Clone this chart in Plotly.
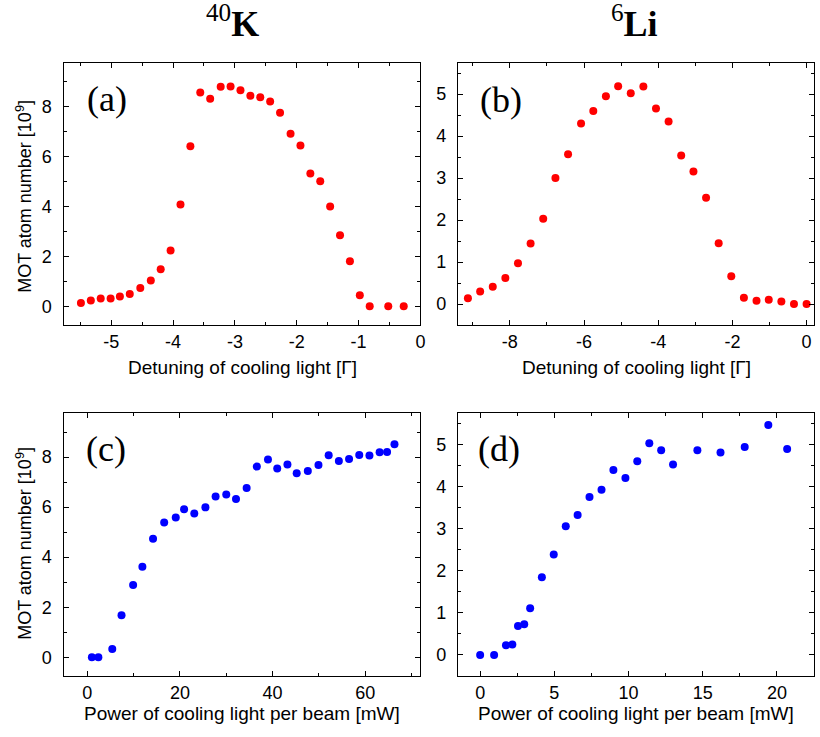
import plotly.graph_objects as go

# ---------------- data ----------------
# (a) 40K : detuning [Gamma] vs MOT atom number [1e9]
k_detuning = [-5.49, -5.33, -5.17, -5.01, -4.86, -4.70, -4.53, -4.36, -4.20, -4.04,
              -3.88, -3.72, -3.56, -3.40, -3.23, -3.07, -2.91, -2.75, -2.59, -2.43,
              -2.27, -2.10, -1.94, -1.78, -1.62, -1.46, -1.30, -1.14, -0.98, -0.82,
              -0.52, -0.27]
k_number_det = [0.13, 0.23, 0.31, 0.31, 0.39, 0.49, 0.73, 1.03, 1.48, 2.23,
                4.07, 6.41, 8.56, 8.31, 8.79, 8.80, 8.65, 8.43, 8.37, 8.20,
                7.75, 6.91, 6.44, 5.31, 5.00, 3.99, 2.84, 1.80, 0.44, 0.0,
                0.0, 0.0]

# (b) 6Li : detuning [Gamma] vs MOT atom number [1e9]
li_detuning = [-9.13, -8.80, -8.46, -8.12, -7.78, -7.44, -7.10, -6.77, -6.43, -6.08,
               -5.75, -5.41, -5.08, -4.74, -4.40, -4.06, -3.72, -3.38, -3.05, -2.71,
               -2.37, -2.03, -1.69, -1.35, -1.02, -0.68, -0.34, 0.0]
li_number_det = [0.14, 0.30, 0.41, 0.62, 0.97, 1.44, 2.03, 3.00, 3.57, 4.30,
                 4.60, 4.95, 5.19, 5.02, 5.18, 4.66, 4.35, 3.54, 3.16, 2.53,
                 1.45, 0.66, 0.15, 0.08, 0.10, 0.06, 0.0, 0.0]

# (c) 40K : power per beam [mW] vs MOT atom number [1e9]
k_power = [1.0, 2.4, 5.4, 7.4, 9.9, 11.9, 14.2, 16.6, 19.1, 20.9,
           23.1, 25.5, 27.7, 30.0, 32.1, 34.4, 36.6, 39.0, 41.0, 43.2,
           45.2, 47.6, 49.9, 52.1, 54.3, 56.5, 58.7, 60.9, 63.1, 64.7,
           66.3]
k_number_pow = [0.0, 0.0, 0.33, 1.68, 2.89, 3.62, 4.74, 5.39, 5.59, 5.91,
                5.75, 5.99, 6.42, 6.50, 6.32, 6.76, 7.62, 7.90, 7.54, 7.70,
                7.35, 7.44, 7.68, 8.07, 7.84, 7.92, 8.08, 8.06, 8.19, 8.20,
                8.51]

# (d) 6Li : power per beam [mW] vs MOT atom number [1e9]
li_power = [0.0, 0.94, 1.74, 2.17, 2.55, 2.97, 3.37, 4.16, 4.96, 5.77,
            6.57, 7.37, 8.18, 8.98, 9.79, 10.59, 11.40, 12.20, 13.0, 14.64,
            16.2, 17.83, 19.42, 20.69]
li_number_pow = [0.0, 0.0, 0.23, 0.25, 0.69, 0.73, 1.11, 1.85, 2.39, 3.06,
                 3.33, 3.76, 3.93, 4.40, 4.21, 4.61, 5.04, 4.87, 4.53, 4.87,
                 4.82, 4.95, 5.47, 4.90]

# tick values / labels
xa_ticks = [-5, -4, -3, -2, -1, 0]
xa_text = ["-5", "-4", "-3", "-2", "-1", "0"]
xb_ticks = [-8, -6, -4, -2, 0]
xb_text = ["-8", "-6", "-4", "-2", "0"]
xc_ticks = [0, 20, 40, 60]
xc_text = ["0", "20", "40", "60"]
xd_ticks = [0, 5, 10, 15, 20]
xd_text = ["0", "5", "10", "15", "20"]
y_k_ticks = [0, 2, 4, 6, 8]
y_li_ticks = [0, 1, 2, 3, 4, 5]

panel_labels = ["(a)", "(b)", "(c)", "(d)"]
column_titles = ["<sup>40</sup><b>K</b>", "<sup>6</sup><b>Li</b>"]
x_title_det = "Detuning of cooling light [Γ]"
x_title_pow = "Power of cooling light per beam [mW]"
y_title = "MOT atom number [10<sup>9</sup>]"

# ---------------- layout geometry ----------------
W, H = 820, 737
def fx(p):
    return p / W
def fy(p):
    return 1 - p / H

L_COL = [fx(64), fx(423)]
R_COL = [fx(460.7), fx(819)]
T_ROW = [fy(325), fy(62.7)]
B_ROW = [fy(676), fy(413.3)]

RED = "#ff0000"
BLUE = "#0000ff"
SANS = "Liberation Sans, Arial, sans-serif"
SERIF = "Liberation Serif, Times New Roman, serif"

fig = go.Figure()
mk = dict(size=8, line=dict(width=0))
fig.add_trace(go.Scatter(x=k_detuning, y=k_number_det, mode="markers",
                         marker=dict(color=RED, **mk), xaxis="x", yaxis="y"))
fig.add_trace(go.Scatter(x=li_detuning, y=li_number_det, mode="markers",
                         marker=dict(color=RED, **mk), xaxis="x2", yaxis="y2"))
fig.add_trace(go.Scatter(x=k_power, y=k_number_pow, mode="markers",
                         marker=dict(color=BLUE, **mk), xaxis="x3", yaxis="y3"))
fig.add_trace(go.Scatter(x=li_power, y=li_number_pow, mode="markers",
                         marker=dict(color=BLUE, **mk), xaxis="x4", yaxis="y4"))


def axis(domain, rng, tickvals, ticktext, minor_dtick, anchor, is_x):
    d = dict(domain=domain, range=rng, anchor=anchor,
             tickmode="array", tickvals=tickvals, ticktext=ticktext,
             showline=True, linecolor="black", linewidth=1.3, mirror="allticks",
             ticks="inside", ticklen=5, tickwidth=1.3, tickcolor="black",
             showgrid=False, zeroline=False,
             tickfont=dict(family=SANS, size=18, color="black"),
             ticklabelstandoff=0 if is_x else 7,
             ticklabeloverflow="allow",
             minor=dict(ticks="inside", ticklen=3, tickwidth=1.1, tickcolor="black",
                        tickmode="linear", tick0=0, dtick=minor_dtick, showgrid=False))
    return d

fig.update_layout(
    width=W, height=H,
    margin=dict(l=0, r=0, t=0, b=0),
    paper_bgcolor="white", plot_bgcolor="white",
    showlegend=False,
    xaxis=axis(L_COL, [-5.77, 0], xa_ticks, xa_text, 0.5, "y", True),
    yaxis=axis(T_ROW, [-0.75, 9.75], y_k_ticks, [str(v) for v in y_k_ticks], 1, "x", False),
    xaxis2=axis(R_COL, [-9.4, 0.2], xb_ticks, xb_text, 1, "y2", True),
    yaxis2=axis(T_ROW, [-0.5, 5.75], y_li_ticks, [str(v) for v in y_li_ticks], 0.5, "x2", False),
    xaxis3=axis(L_COL, [-5.1, 71.9], xc_ticks, xc_text, 10, "y3", True),
    yaxis3=axis(B_ROW, [-0.75, 9.75], y_k_ticks, [str(v) for v in y_k_ticks], 1, "x3", False),
    xaxis4=axis(R_COL, [-1.5, 22.5], xd_ticks, xd_text, 2.5, "y4", True),
    yaxis4=axis(B_ROW, [-0.5, 5.75], y_li_ticks, [str(v) for v in y_li_ticks], 0.5, "x4", False),
)

ann = []
# column titles
for txt, cx in zip(column_titles, [234, 638]):
    ann.append(dict(text=txt, x=fx(cx), y=fy(22), xref="paper", yref="paper",
                    showarrow=False, xanchor="center", yanchor="middle",
                    font=dict(family=SERIF, size=36, color="black")))
# panel labels
for txt, cx, cy in zip(panel_labels, [108, 504, 107, 502], [99, 100, 449, 449]):
    ann.append(dict(text=txt, x=fx(cx), y=fy(cy), xref="paper", yref="paper",
                    showarrow=False, xanchor="center", yanchor="middle",
                    font=dict(family=SERIF, size=36, color="black")))
# x axis titles
for txt, cx, cy in [(x_title_det, 243.5, 367), (x_title_det, 640, 367),
                    (x_title_pow, 243.5, 713), (x_title_pow, 640, 713)]:
    ann.append(dict(text=txt, x=fx(cx), y=fy(cy), xref="paper", yref="paper",
                    showarrow=False, xanchor="center", yanchor="middle",
                    font=dict(family=SANS, size=19, color="black")))
# y axis titles
for cy in [196, 543]:
    ann.append(dict(text=y_title, x=fx(24), y=fy(cy), xref="paper", yref="paper",
                    showarrow=False, xanchor="center", yanchor="middle", textangle=-90,
                    font=dict(family=SANS, size=18, color="black")))
fig.update_layout(annotations=ann)

fig.write_html("out.html",
               config={"displayModeBar": False},
               post_script="document.body.style.margin='0';"
                           "document.body.style.padding='0';"
                           "document.documentElement.style.overflow='hidden';")
